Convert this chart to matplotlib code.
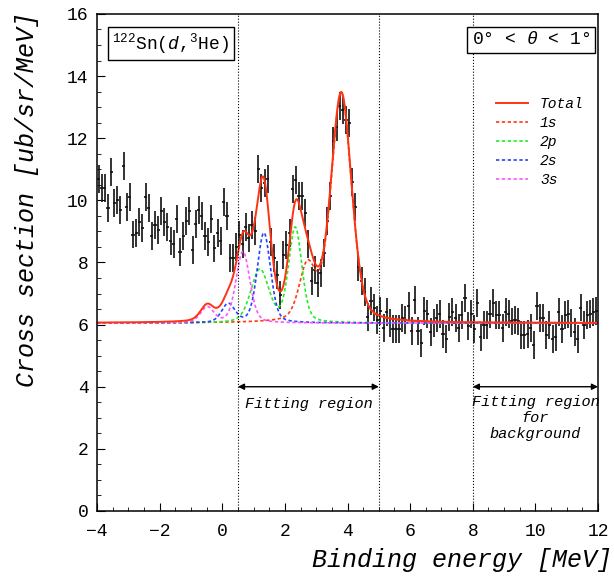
import numpy as np
import matplotlib.pyplot as plt
from matplotlib.ticker import MultipleLocator

plt.rcParams['font.family'] = ['Liberation Mono', 'DejaVu Sans']
plt.rcParams['mathtext.fontset'] = 'custom'
plt.rcParams['mathtext.rm'] = 'Liberation Mono'
plt.rcParams['mathtext.it'] = 'Liberation Mono:italic'

# measured spectrum, 0.1 MeV bins from -3.95 to 11.95
x_start = -3.95
x_step = 0.1
counts = [
    10.7, 10.4, 10.4, 9.75, 10.9, 9.9, 10.0, 9.7, 11.1, 9.8,
    10.1, 8.9, 8.95, 9.3, 9.1, 10.1, 9.75, 8.85, 9.2, 9.05,
    9.65, 9.3, 9.15, 8.7, 8.6, 9.4, 8.35, 8.85, 9.35, 9.65,
    8.4, 9.25, 9.7, 9.5, 8.85, 8.65, 9.4, 8.45, 8.95, 8.7,
    9.95, 9.5, 8.15, 8.15, 8.5, 8.9, 8.6, 9.15, 8.8, 9.2,
    9.0, 11.0, 10.4, 10.55, 10.7, 8.65, 8.15, 7.6, 6.95, 8.25,
    8.55, 8.95, 10.35, 10.65, 10.15, 10.15, 9.6, 8.6, 7.4, 7.75,
    7.35, 7.65, 8.3, 9.35, 10.15, 11.9, 12.35, 13.05, 12.9, 12.6,
    12.5, 10.6, 9.8, 7.85, 7.4, 7.05, 6.25, 6.75, 6.55, 6.15,
    6.45, 5.9, 6.4, 6.05, 5.85, 5.85, 5.85, 6.2, 6.15, 6.6,
    5.8, 6.8, 5.8, 5.4, 6.45, 6.35, 5.75, 6.05, 6.2, 6.35,
    5.7, 5.55, 6.25, 6.4, 6.2, 5.9, 6.3, 6.85, 5.95, 6.35,
    5.85, 6.7, 5.6, 6.0, 6.0, 6.35, 6.7, 6.3, 6.3, 5.9,
    6.4, 6.35, 6.1, 6.15, 6.1, 5.65, 5.65, 5.7, 5.9, 5.35,
    6.6, 6.2, 6.2, 5.65, 6.0, 5.55, 5.6, 6.4, 5.85, 6.3,
    6.35, 6.05, 5.75, 5.55, 6.55, 6.0, 6.3, 6.35, 6.4, 6.45,
]
stat_err = 0.45

# fit result: flat background + peaks (center, height, fwhm) per pionic state
background = 6.05
states = ['1s', '2p', '2s', '3s']
centers = {'1s': [2.72, 3.8], '2p': [1.2, 2.33], '2s': [0.19, 1.33], '3s': [-0.48, 0.66]}
heights = {'1s': [1.75, 7.35], '2p': [1.7, 3.05], '2s': [0.6, 2.9], '3s': [0.5, 2.3]}
fwhms = {'1s': [0.62, 0.78], '2p': [0.68, 0.5], '2s': [0.5, 0.5], '3s': [0.5, 0.52]}
colors = {'1s': '#ff3a10', '2p': '#22ee22', '2s': '#2244ff', '3s': '#ff55ff'}


def peak(e, c, a, w, eta=0.3):
    s = w / 2.3548
    g = w / 2
    return a * ((1 - eta) * np.exp(-(e - c) ** 2 / (2 * s * s)) + eta * g * g / ((e - c) ** 2 + g * g))


x = x_start + x_step * np.arange(len(counts))
y = np.array(counts)

fig = plt.figure(figsize=(6.14, 5.81), dpi=100)
ax = fig.add_axes([0.158, 0.1205, 0.816, 0.8555])

# data points
ax.errorbar(x, y, xerr=0.05, yerr=stat_err, fmt='none', ecolor='#111111', elinewidth=1.2, capsize=0)

# fit curves
e = np.linspace(-4, 12, 1601)
total = np.full_like(e, background)
for st in states:
    comp = np.zeros_like(e)
    for c, a, w in zip(centers[st], heights[st], fwhms[st]):
        comp += peak(e, c, a, w)
    total += comp
    ax.plot(e, background + comp, color=colors[st], lw=1.2, ls=(0, (2, 1.5)), label=st)
ax.plot(e, total, color='#ff3311', lw=1.4, label='Total')

# fitting regions
for xv in [0.5, 5, 8]:
    ax.axvline(xv, color='black', lw=0.8, ls=':')
ax.annotate('', xy=(5, 4.0), xytext=(0.5, 4.0),
            arrowprops=dict(arrowstyle='<|-|>', color='black', lw=1, mutation_scale=9, shrinkA=0, shrinkB=0))
ax.annotate('', xy=(12, 4.0), xytext=(8, 4.0),
            arrowprops=dict(arrowstyle='<|-|>', color='black', lw=1, mutation_scale=9, shrinkA=0, shrinkB=0))
ax.text(2.75, 3.45, 'Fitting region', ha='center', va='center', fontsize=11, fontstyle='italic')
ax.text(10.0, 3.72, 'Fitting region\nfor\nbackground', ha='center', va='top', fontsize=11,
        fontstyle='italic', linespacing=1.15)

box = dict(boxstyle='square,pad=0.25', fc='white', ec='black', lw=1)
ax.text(0.03, 0.965, r'$^{122}$Sn($d$,$^{3}$He)', transform=ax.transAxes, ha='left', va='top',
        fontsize=13, bbox=box)
ax.text(0.984, 0.965, r'0° < $\it{\theta}$ < 1°', transform=ax.transAxes, ha='right', va='top',
        fontsize=13, bbox=box)

# legend
h, l = ax.get_legend_handles_labels()
order = [4, 0, 1, 2, 3]
ax.legend([h[i] for i in order], [l[i] for i in order], loc='upper left', bbox_to_anchor=(0.785, 0.845),
          frameon=False, prop={'family': 'Liberation Mono', 'style': 'italic', 'size': 10.5},
          handlelength=2.2, labelspacing=0.35, borderaxespad=0)

ax.set_xlim(-4, 12)
ax.set_ylim(0, 16)
ax.xaxis.set_major_locator(MultipleLocator(2))
ax.xaxis.set_minor_locator(MultipleLocator(0.5))
ax.yaxis.set_major_locator(MultipleLocator(2))
ax.yaxis.set_minor_locator(MultipleLocator(0.5))
ax.tick_params(which='major', direction='in', length=6, labelsize=13)
ax.tick_params(axis='x', which='major', pad=9)
ax.tick_params(axis='y', which='major', pad=6)
ax.tick_params(which='minor', direction='in', length=3)
for sp in ax.spines.values():
    sp.set_linewidth(1.1)

ax.set_xlabel('Binding energy [MeV]', fontsize=18, fontstyle='italic', ha='right')
ax.xaxis.set_label_coords(1.028, -0.075)
ax.set_ylabel('Cross section [ub/sr/MeV]', fontsize=18, fontstyle='italic')
ax.yaxis.set_label_coords(-0.115, 0.626)

fig.savefig('out.png', dpi=100)
